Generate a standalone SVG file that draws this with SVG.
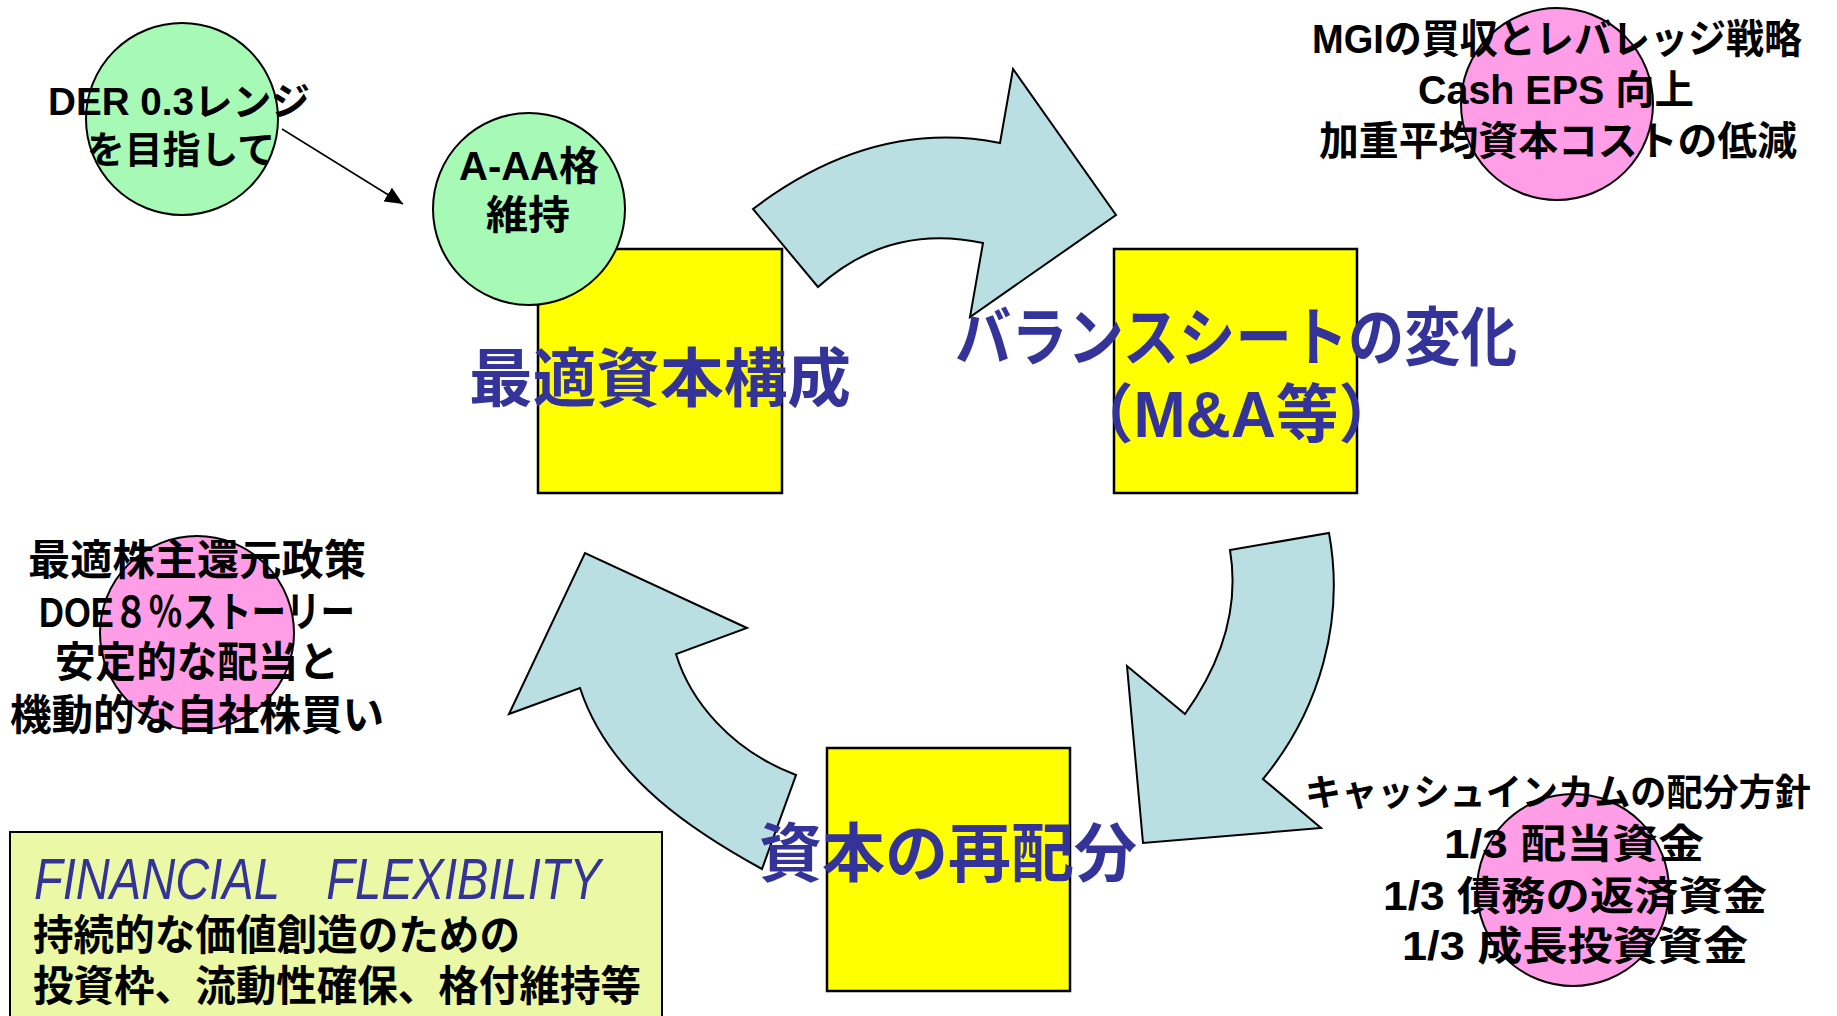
<svg xmlns="http://www.w3.org/2000/svg" width="1837" height="1016" viewBox="0 0 1837 1016">
<style>
.bg{fill:#ffffff}
.flow{fill:#B9DFE3;stroke:#000;stroke-width:2;stroke-linejoin:miter}
.box{fill:#FFFF00;stroke:#000;stroke-width:2.5}
.green{fill:#A6FAB6;stroke:#000;stroke-width:2}
.pink{fill:#FF9DE6;stroke:#000;stroke-width:2}
.note{fill:#EBF8A5;stroke:#000;stroke-width:2}
.blk{font-family:"Liberation Sans","Noto Sans CJK JP","Noto Sans CJK SC",sans-serif;font-weight:700;fill:#000;text-anchor:middle}
.blu{font-family:"Liberation Sans","Noto Sans CJK JP","Noto Sans CJK SC",sans-serif;font-weight:700;fill:#333399;text-anchor:middle;font-size:64px}
.ital{font-family:"Liberation Sans",Arial,sans-serif;font-style:italic;fill:#333399;font-size:58px}
.lft{font-family:"Liberation Sans","Noto Sans CJK JP","Noto Sans CJK SC",sans-serif;font-weight:700;fill:#000;font-size:42px}
.thin{stroke:#000;stroke-width:1.5;fill:none}
</style>
<defs>
<marker id="ah" markerUnits="userSpaceOnUse" markerWidth="20" markerHeight="16" refX="18" refY="8" orient="auto">
<path d="M0,0 L18,8 L0,16 Z" fill="#000"/>
</marker>
</defs>
<rect class="bg" x="0" y="0" width="1837" height="1016"/>

<g id="connectors">
<path id="arrow-top" class="flow" d="M753,209 Q873,118 1000,143 L1013,69 L1116,215 L970,317 L983,243 Q889,223 818,287 Z"/>
<path id="arrow-right" class="flow" d="M1230,550 L1329,533 C1345,620 1320,710 1263,779 L1321,828 L1143,843 L1127,666 L1185,714 C1220,665 1240,610 1230,550 Z"/>
<path id="arrow-left" class="flow" d="M762,869 C700,835 610,780 580,688 L509,714 L585,553 L747,628 L676,654 C690,700 730,750 796,775 Z"/>
<line id="der-to-rating" class="thin" x1="282" y1="129" x2="403" y2="204" marker-end="url(#ah)"/>
</g>

<g id="node-optimal-capital">
<rect class="box" x="538" y="249" width="244" height="244"/>
</g>
<g id="node-balance-sheet">
<rect class="box" x="1114" y="249" width="243" height="244"/>
</g>
<g id="node-reallocation">
<rect class="box" x="827" y="748" width="243" height="243"/>
</g>

<g id="node-der">
<circle class="green" cx="182" cy="119" r="96"/>
<text class="blk" x="179" y="115" font-size="38" textLength="262" lengthAdjust="spacingAndGlyphs">DER 0.3レンジ</text>
<text class="blk" x="181" y="163" font-size="38" textLength="188" lengthAdjust="spacingAndGlyphs">を目指して</text>
</g>

<g id="node-rating">
<circle class="green" cx="529" cy="209" r="96"/>
<text class="blk" x="529" y="180" font-size="40" textLength="140" lengthAdjust="spacingAndGlyphs">A-AA格</text>
<text class="blk" x="528" y="229" font-size="40" textLength="84" lengthAdjust="spacingAndGlyphs">維持</text>
</g>

<g id="node-mgi">
<circle class="pink" cx="1557" cy="104" r="96"/>
<text class="blk" x="1557" y="53" font-size="40" textLength="490" lengthAdjust="spacingAndGlyphs">MGIの買収とレバレッジ戦略</text>
<text class="blk" x="1556" y="104" font-size="40" textLength="276" lengthAdjust="spacingAndGlyphs">Cash EPS 向上</text>
<text class="blk" x="1558" y="155" font-size="40" textLength="478" lengthAdjust="spacingAndGlyphs">加重平均資本コストの低減</text>
</g>

<g id="node-shareholder-return">
<circle class="pink" cx="197" cy="633" r="97"/>
<text class="blk" x="197" y="575" font-size="42" textLength="338" lengthAdjust="spacingAndGlyphs">最適株主還元政策</text>
<text class="blk" x="197" y="627" font-size="42" textLength="316" lengthAdjust="spacingAndGlyphs">DOE８％ストーリー</text>
<text class="blk" x="197" y="677" font-size="42" textLength="284" lengthAdjust="spacingAndGlyphs">安定的な配当と</text>
<text class="blk" x="197" y="730" font-size="42" textLength="374" lengthAdjust="spacingAndGlyphs">機動的な自社株買い</text>
</g>

<g id="node-cash-income">
<circle class="pink" cx="1573" cy="890" r="96"/>
<text class="blk" x="1558" y="806" font-size="37" textLength="506" lengthAdjust="spacingAndGlyphs">キャッシュインカムの配分方針</text>
<text class="blk" x="1574" y="858" font-size="40" textLength="260" lengthAdjust="spacingAndGlyphs">1/3 配当資金</text>
<text class="blk" x="1575" y="910" font-size="40" textLength="384" lengthAdjust="spacingAndGlyphs">1/3 債務の返済資金</text>
<text class="blk" x="1575" y="960" font-size="40" textLength="346" lengthAdjust="spacingAndGlyphs">1/3 成長投資資金</text>
</g>

<g id="node-flexibility">
<rect class="note" x="10" y="832" width="652" height="200"/>
<text class="ital" x="34" y="899" textLength="567" lengthAdjust="spacingAndGlyphs">FINANCIAL　FLEXIBILITY</text>
<text class="lft" x="33" y="950" textLength="487" lengthAdjust="spacingAndGlyphs">持続的な価値創造のための</text>
<text class="lft" x="33" y="1001" textLength="608" lengthAdjust="spacingAndGlyphs">投資枠、流動性確保、格付維持等</text>
</g>

<g id="labels">
<text id="label-optimal-capital" class="blu" x="660" y="401" textLength="382" lengthAdjust="spacingAndGlyphs">最適資本構成</text>
<text id="label-balance-sheet" class="blu" x="1236" y="360" textLength="562" lengthAdjust="spacingAndGlyphs">バランスシートの変化</text>
<text id="label-ma" class="blu" x="1236" y="437" textLength="330" lengthAdjust="spacingAndGlyphs">（M&amp;A等）</text>
<text id="label-reallocation" class="blu" x="948" y="876" textLength="378" lengthAdjust="spacingAndGlyphs">資本の再配分</text>
</g>
</svg>
